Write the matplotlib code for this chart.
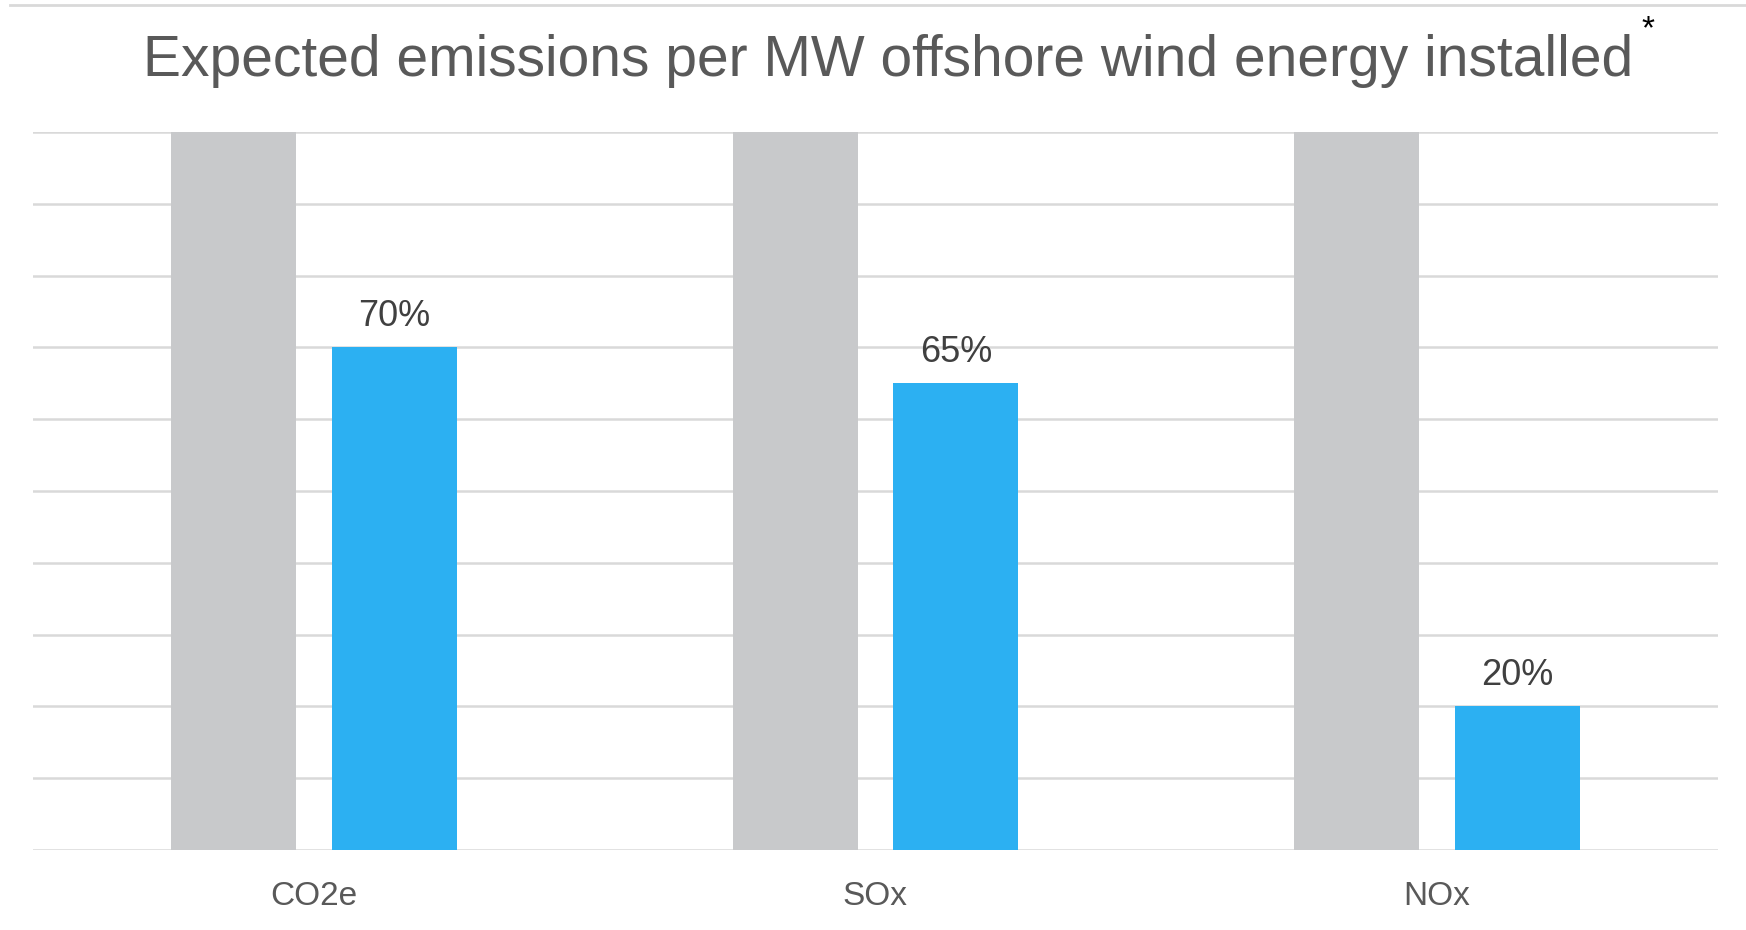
import numpy as np
import matplotlib.pyplot as plt
from matplotlib.lines import Line2D

# datos
categorias = ['CO2e', 'SOx', 'NOx']
referencia = [100, 100, 100]   # barra gris (100 %)
eolica = [70, 65, 20]          # barra azul
etiquetas = ['70%', '65%', '20%']

gris = '#C8C9CB'
azul = '#2CB0F2'
fuente = ['Liberation Sans', 'DejaVu Sans']

fig = plt.figure(figsize=(17.46, 9.30), dpi=100)
ax = fig.add_axes([0.0189, 0.086, 0.965, 0.772])

x = np.arange(len(categorias))
ancho = 0.223
desp = 0.143

ax.bar(x - desp, referencia, ancho, color=gris, zorder=2)
barras = ax.bar(x + desp, eolica, ancho, color=azul, zorder=2)

for b, t in zip(barras, etiquetas):
    ax.text(b.get_x() + b.get_width() / 2, b.get_height() + 3.0, t,
            ha='center', va='baseline', fontsize=26, color='#404040',
            family=fuente)

ax.set_xlim(-0.5, 2.5)
ax.set_ylim(0, 100)
ax.set_yticks(np.arange(0, 101, 10))
ax.set_yticklabels([])
ax.tick_params(axis='both', length=0)
ax.grid(axis='y', color='#D9D9D9', linewidth=1.8, zorder=0)
ax.set_axisbelow(True)
for s in ax.spines.values():
    s.set_visible(False)

ax.set_xticks(x)
ax.set_xticklabels(categorias, fontsize=24, color='#595959', family=fuente)
ax.tick_params(axis='x', pad=22)

fig.text(0.5085, 0.918, 'Expected emissions per MW offshore wind energy installed',
         ha='center', va='baseline', fontsize=41, color='#595959',
         family=fuente)
fig.text(0.944, 0.968, '*', ha='center', va='center', fontsize=24, color='black',
         family=fuente)

# linea superior del marco
fig.add_artist(Line2D([0.006, 1.0], [0.995, 0.995], transform=fig.transFigure,
                      color='#D9D9D9', linewidth=2))

fig.savefig('out.png', dpi=100)
